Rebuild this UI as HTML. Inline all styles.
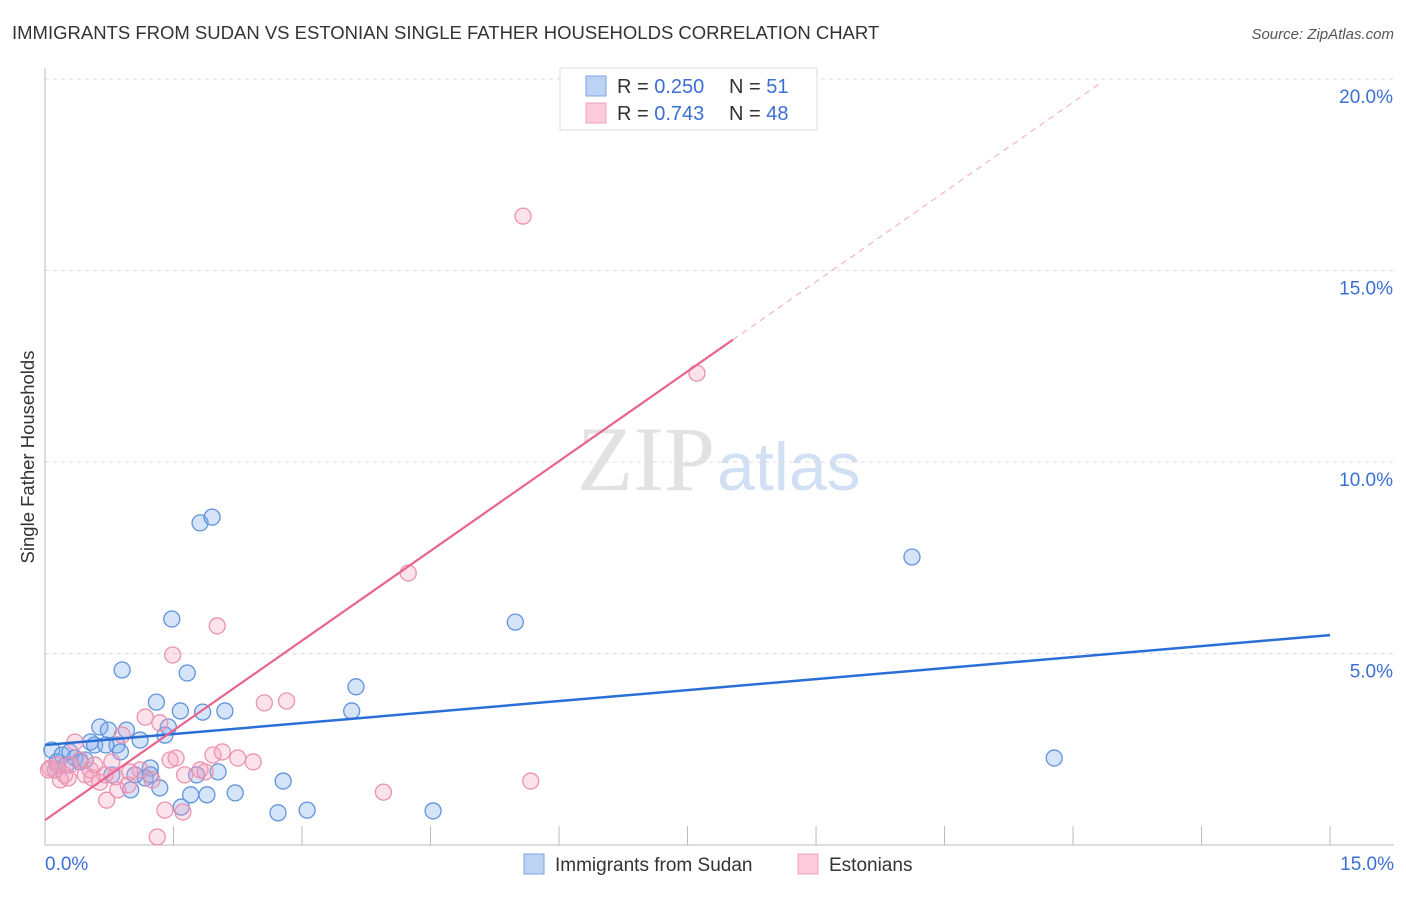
<!DOCTYPE html>
<html><head><meta charset="utf-8"><style>
body{margin:0;background:#fff;font-family:"Liberation Sans",sans-serif;}
svg text{font-family:"Liberation Sans",sans-serif;}
</style></head><body>
<svg id="chart" width="1406" height="892" xmlns="http://www.w3.org/2000/svg">
<text x="12" y="39" font-size="18.5" fill="#333">IMMIGRANTS FROM SUDAN VS ESTONIAN SINGLE FATHER HOUSEHOLDS CORRELATION CHART</text>
<text x="1394" y="39" font-size="15" fill="#555" font-style="italic" text-anchor="end">Source: ZipAtlas.com</text>
<text x="715" y="490" font-size="92" fill="#e2e2e2" text-anchor="end" style="font-family:'Liberation Serif',serif">ZIP</text>
<text x="717" y="490" font-size="68" fill="#d2e0f4">atlas</text>
<g id="grid"></g><g id="marks"></g>
<text transform="translate(34,457) rotate(-90)" font-size="18.5" fill="#333" text-anchor="middle">Single Father Households</text>
<g>
<rect x="560" y="68" width="257" height="62" fill="#fff" stroke="#ddd"/>
<rect x="586" y="76" width="20" height="20" fill="#bcd3f3" stroke="#7aa4e0"/>
<rect x="586" y="103" width="20" height="20" fill="#fbcadb" stroke="#f0a0bc"/>
<text x="617" y="93" font-size="20" fill="#333">R =  <tspan fill="#3b6fd4">0.250</tspan></text>
<text x="729" y="93" font-size="20" fill="#333">N =  <tspan fill="#3b6fd4">51</tspan></text>
<text x="617" y="120" font-size="20" fill="#333">R =  <tspan fill="#3b6fd4">0.743</tspan></text>
<text x="729" y="120" font-size="20" fill="#333">N =  <tspan fill="#3b6fd4">48</tspan></text>
</g>
<g>
<rect x="524" y="854" width="20" height="20" fill="#bcd3f3" stroke="#7aa4e0"/>
<text x="555" y="871" font-size="19" fill="#333">Immigrants from Sudan</text>
<rect x="798" y="854" width="20" height="20" fill="#fbcadb" stroke="#f0a0bc"/>
<text x="829" y="871" font-size="19" fill="#333">Estonians</text>
</g>
</svg>
<script>
const blueX=[0.08,0.14,0.20,0.29,0.35,0.41,0.53,0.58,0.64,0.74,0.84,0.78,0.90,0.95,1.11,1.05,1.23,1.17,1.00,1.30,1.34,1.40,1.44,1.48,1.58,1.66,1.59,1.70,1.77,1.84,1.89,1.81,1.95,2.02,2.10,2.22,2.72,2.78,3.06,3.58,3.63,4.53,5.49,10.12,11.78,0.12,0.25,0.47,0.71,0.88,1.23];
const blueY=[2.48,2.17,2.35,2.43,2.27,2.17,2.69,2.61,3.08,3.00,2.61,1.83,4.57,3.00,2.74,1.83,2.01,1.75,1.44,3.73,1.49,2.87,3.08,5.90,3.50,4.49,0.99,1.31,1.83,3.47,1.31,8.41,8.56,1.91,3.50,1.36,0.84,1.67,0.91,3.50,4.13,0.89,5.82,7.52,2.27,1.96,2.09,2.22,2.61,2.43,1.83];
const pinkX=[0.06,0.12,0.18,0.23,0.29,0.35,0.41,0.47,0.53,0.58,0.64,0.70,0.72,0.78,0.85,0.90,0.97,1.11,1.17,1.25,1.31,1.34,1.40,1.46,1.49,1.53,1.61,1.81,1.87,1.96,2.01,2.07,2.25,2.43,2.56,2.82,3.95,4.24,5.58,5.67,7.61,0.04,0.15,0.27,0.55,0.82,0.99,1.63];
const pinkY=[2.01,1.96,1.70,1.83,2.09,2.69,2.22,1.83,1.96,2.09,1.64,1.83,1.17,2.17,1.44,2.87,1.57,1.96,3.34,1.70,0.21,3.19,0.91,2.22,4.96,2.27,0.86,1.96,1.91,2.35,5.72,2.43,2.27,2.17,3.71,3.76,1.38,7.10,16.42,1.67,12.32,1.96,2.09,1.75,1.75,1.78,1.91,1.83];
const yTicks=[5,10,15,20];
const xTickVals=[0,1.5,3,4.5,6,7.5,9,10.5,12,13.5,15];
const blueTrend=[2.61,5.48]; // y at x=0 and x=15
const pinkTrend=[0.65,1.562]; // intercept, slope
const NS="http://www.w3.org/2000/svg";
const X=v=>45+v*85.67, Y=v=>845-v*38.3;
function mk(t,a,p){const e=document.createElementNS(NS,t);for(const k in a)e.setAttribute(k,a[k]);p.appendChild(e);return e;}
const g=document.getElementById('grid'), m=document.getElementById('marks');
yTicks.forEach(v=>{
 const l=mk('line',{x1:45,x2:1394,y1:Y(v),y2:Y(v),stroke:'#ddd','stroke-dasharray':'4,4'},g);
 
 
 const t=mk('text',{x:1393,y:Y(v)+24,'font-size':19,fill:'#3b6fd4','text-anchor':'end'},g);
 t.textContent=v.toFixed(1)+'%';
 
 
});
const ax=mk('line',{x1:45,x2:45,y1:68,y2:845,stroke:'#bbb'},g);


const bx=mk('line',{x1:45,x2:1394,y1:845,y2:845,stroke:'#bbb'},g);


xTickVals.forEach(v=>{
 const l=mk('line',{x1:X(v),x2:X(v),y1:826,y2:845,stroke:'#bbb'},g);
 
 
});
[[0,'start',45],[15,'end',1394]].forEach(([v,a,x])=>{
 const t=mk('text',{x:x,y:870,'font-size':19,fill:'#3b6fd4','text-anchor':a},g);
 t.textContent=v.toFixed(1)+'%';
 
 
});
blueX.forEach((v,i)=>{
 const c=mk('circle',{cx:X(v),cy:Y(blueY[i]),r:8,fill:'rgba(120,165,235,0.3)',stroke:'#5f93dc','stroke-width':1.3},m);
 
 
});
pinkX.forEach((v,i)=>{
 const c=mk('circle',{cx:X(v),cy:Y(pinkY[i]),r:8,fill:'rgba(245,160,190,0.3)',stroke:'#eb92b0','stroke-width':1.3},m);
 
 
});
const bl=mk('line',{x1:X(0),y1:Y(blueTrend[0]),x2:X(15),y2:Y(blueTrend[1]),stroke:'#2a6fd6','stroke-width':2.5},m);


const pe=8.03, pd=12.31;
const pl=mk('line',{x1:X(0),y1:Y(pinkTrend[0]),x2:X(pe),y2:Y(pinkTrend[0]+pinkTrend[1]*pe),stroke:'#e8648f','stroke-width':2.2},m);


const pdl=mk('line',{x1:X(pe),y1:Y(pinkTrend[0]+pinkTrend[1]*pe),x2:X(pd),y2:Y(pinkTrend[0]+pinkTrend[1]*pd),stroke:'#f0a8c0','stroke-width':1,'stroke-dasharray':'6,5'},m);


</script>
</body></html>
